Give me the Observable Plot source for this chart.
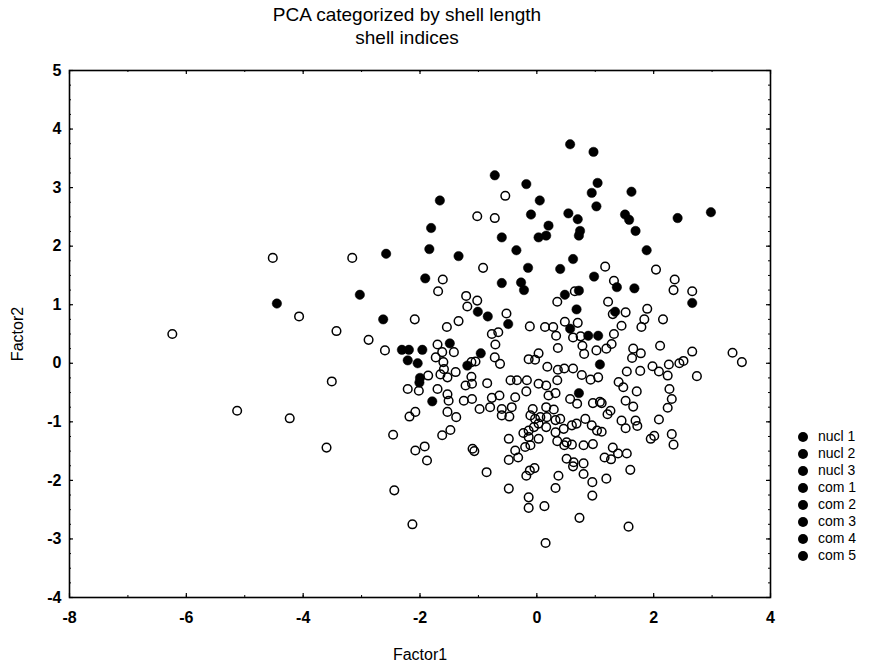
<!DOCTYPE html>
<html>
<head>
<meta charset="utf-8">
<script src="https://cdn.jsdelivr.net/npm/d3@7"></script>
<script src="https://cdn.jsdelivr.net/npm/@observablehq/plot@0.6"></script>
<style>
  body { margin: 0; background: #fff; font-family: "Liberation Sans", Arial, sans-serif; color: #000; }
  #wrap { position: relative; width: 879px; height: 670px; }
  #title { position: absolute; left: 157px; top: 3px; width: 500px; text-align: center; font-size: 19px; line-height: 23px; }
  #chart { position: absolute; left: 0; top: 55px; }
  #legend { position: absolute; left: 798px; top: 428px; font-size: 14px; line-height: 17px; }
  #legend .row { display: flex; align-items: center; height: 17px; }
  #legend .dot { width: 10px; height: 10px; border-radius: 50%; background: #000; margin-right: 10px; }
  #chart svg g[aria-label="x-axis tick label"] text, #chart svg g[aria-label="y-axis tick label"] text { font-weight: bold; }
</style>
</head>
<body>
<div id="wrap">
  <div id="title">PCA categorized by shell length<br>shell indices</div>
  <div id="chart"></div>
  <div id="legend"></div>
</div>
<script>
// Data
const nuclPoints = [
  [-2.58,1.87],[-3.03,1.17],[-4.45,1.02],[-2.63,0.75],
  [0.57,3.74],[0.97,3.61],[-0.72,3.21],[-0.18,3.06],[1.04,3.08],[-1.66,2.78],[0.94,2.91],[0.05,2.78],
  [1.62,2.93],[1.02,2.68],[-0.10,2.54],[0.54,2.56],[0.70,2.46],[1.51,2.54],[1.58,2.45],[2.41,2.48],
  [-1.81,2.31],[0.20,2.35],[0.74,2.26],[0.72,2.18],[-0.60,2.15],[0.03,2.15],[0.16,2.18],[1.69,2.26],
  [-1.84,1.95],[-0.35,1.93],[1.88,1.93],[-1.34,1.83],[0.62,1.78],[0.40,1.61],[-0.15,1.63],[-1.91,1.45],
  [0.98,1.48],[-0.60,1.37],[-0.27,1.38],[-0.22,1.25],[1.37,1.30],[1.67,1.28],[0.72,1.24],[0.48,1.17],
  [0.68,0.92],[-1.01,0.88],[-0.84,0.80],[-0.49,0.67],
  [2.98,2.58],[2.66,1.03],[1.34,0.88],
  [-2.31,0.23],[-2.19,0.23],[-1.96,0.23],[-2.21,0.05],[-2.04,0.00],[-1.49,0.34],[-0.96,0.17],
  [-1.19,-0.04],[-2.00,-0.25],[-2.01,-0.33],[-1.79,-0.65],[0.57,0.59],[0.88,0.47],[1.05,0.47],
  [1.08,-0.02],[0.72,-0.51]
];
const comPoints = [
  [-4.52,1.80],[-3.16,1.80],[-4.07,0.80],[-6.24,0.50],[-3.43,0.55],[-2.88,0.40],[-2.60,0.22],
  [-3.51,-0.31],[-5.13,-0.81],[-4.23,-0.94],[-2.46,-1.22],[-3.60,-1.44],[-2.44,-2.17],
  [-0.54,2.86],[-1.02,2.51],[-0.72,2.48],[-0.92,1.63],[1.17,1.65],[2.04,1.60],[-1.61,1.43],[-1.69,1.23],
  [1.32,1.41],[2.36,1.43],[2.34,1.25],[-1.21,1.15],[-1.02,1.07],[-1.19,0.97],[0.65,1.23],[0.35,1.05],
  [1.22,1.05],[-0.52,0.85],[-2.09,0.75],[-1.34,0.72],[-1.54,0.62],[1.30,0.84],[1.52,0.87],[1.89,0.93],
  [1.84,0.75],[2.16,0.75],[1.45,0.64],[1.79,0.62],[0.48,0.71],[0.70,0.69],[-0.12,0.63],[0.14,0.62],[0.28,0.62],
  [2.66,1.23],[1.32,0.50],[1.19,0.25],[1.28,0.33],[1.65,0.25],[1.78,0.17],[1.63,0.09],[2.11,0.30],
  [2.66,0.20],[3.35,0.18],[3.51,0.02],[1.98,-0.05],[2.26,-0.02],[2.44,0.00],[2.51,0.04],[1.54,-0.14],
  [1.77,-0.13],[2.09,-0.14],[2.74,-0.22],[2.24,-0.21],
  [1.40,-0.32],[1.48,-0.41],[1.71,-0.48],[2.27,-0.44],[2.31,-0.61],[2.24,-0.76],[1.11,-0.68],[1.26,-0.81],
  [1.21,-0.87],[1.52,-0.64],[1.65,-0.74],[1.45,-0.98],[1.52,-1.11],[1.69,-0.98],[1.72,-1.07],[2.09,-0.96],
  [1.11,-1.17],[1.95,-1.29],[2.01,-1.24],[2.31,-1.21],[2.34,-1.39],[1.30,-1.44],[1.16,-1.61],[1.27,-1.64],
  [1.39,-1.54],[1.54,-1.54],[1.60,-1.82],[1.19,-1.97],
  [-0.77,0.50],[-0.66,0.53],[-0.71,0.32],[0.33,0.47],[0.62,0.44],[0.75,0.46],[0.78,0.30],[0.81,0.16],
  [1.02,0.22],[-1.70,0.32],[-1.62,0.19],[-1.42,0.19],[-1.73,0.10],[-1.60,0.02],[-1.59,-0.10],[-1.65,-0.19],
  [-1.53,-0.24],[-1.39,-0.15],[-1.12,0.02],[-1.05,0.03],[-1.12,-0.23],[-0.72,0.10],[-0.63,-0.01],[-1.86,-0.21],
  [-0.14,0.07],[-0.03,0.06],[0.03,0.17],[0.18,-0.06],[0.36,0.26],[0.36,-0.11],[0.47,-0.09],[0.62,-0.09],
  [0.77,-0.20],[0.92,-0.28],[1.05,-0.24],[-1.70,-0.44],[-2.21,-0.44],[-2.02,-0.47],[-2.18,-0.91],[-2.08,-0.83],
  [-1.92,-1.42],[-2.08,-1.49],[-1.88,-1.66],[0.95,-2.26],[-0.14,-2.29],[-0.14,-2.47],[0.13,-2.44],[0.73,-2.64],
  [-2.13,-2.75],[1.57,-2.79],[0.15,-3.07],
  [-1.22,-0.38],[-1.11,-0.35],[-0.85,-0.34],[-0.45,-0.29],[-0.34,-0.29],[-0.17,-0.29],[0.03,-0.35],[0.16,-0.38],
  [0.35,-0.29],[-1.53,-0.53],[-1.51,-0.64],[-1.25,-0.64],[-1.11,-0.61],[-0.77,-0.59],[-0.64,-0.55],[-0.37,-0.58],
  [-0.18,-0.48],[0.20,-0.55],[0.32,-0.51],[0.57,-0.61],[0.69,-0.69],[0.96,-0.68],[1.08,-0.66],[-1.53,-0.83],
  [-1.38,-0.92],[-0.98,-0.78],[-0.80,-0.75],[-0.60,-0.78],[-0.43,-0.75],[-0.60,-0.89],[-0.47,-0.91],[-0.07,-0.78],
  [0.16,-0.75],[0.29,-0.79],[-0.11,-0.89],[-0.03,-0.95],[0.06,-0.92],[0.17,-0.92],[0.32,-0.97],[0.40,-0.95],
  [0.03,-1.03],[-0.05,-1.09],[-0.14,-1.15],[-0.23,-1.19],[0.16,-1.09],[0.32,-1.18],[0.46,-1.12],[0.60,-1.06],
  [0.68,-1.03],[0.83,-0.95],[0.94,-1.06],[1.03,-1.15],[-1.48,-1.14],[-1.62,-1.23],[-0.48,-1.29],[-0.14,-1.26],
  [-0.11,-1.40],[-0.20,-1.43],[0.03,-1.29],[0.35,-1.33],[0.51,-1.35],[0.60,-1.39],[0.47,-1.40],[0.80,-1.40],
  [0.96,-1.38],[-1.10,-1.46],[-1.07,-1.50],[-0.37,-1.49],[-0.32,-1.61],[-0.48,-1.65],[0.51,-1.63],[0.63,-1.69],
  [0.80,-1.71],[0.62,-1.76],[0.80,-1.89],[0.95,-2.03],[-0.86,-1.86],[-0.12,-1.83],[-0.04,-1.79],[-0.18,-1.92],
  [0.37,-1.92],[-0.48,-2.14],[0.32,-2.13]
];
const legendLabels = ["nucl 1","nucl 2","nucl 3","com 1","com 2","com 3","com 4","com 5"];
const xDomain = [-8, 4];
const yDomain = [-4, 5];
const xMajorTicks = [-8, -6, -4, -2, 0, 2, 4];
const xMinorTicks = [-8, -7, -6, -5, -4, -3, -2, -1, 0, 1, 2, 3, 4];
const yMajorTicks = [-4, -3, -2, -1, 0, 1, 2, 3, 4, 5];
const yMinorTicks = d3.range(-4, 5.001, 0.25);

const W = 879, H = 615, mL = 69, mR = 109, mT = 15, mB = 73;
const fw = W - mL - mR, fh = H - mT - mB;

const chart = Plot.plot({
  width: W, height: H,
  marginLeft: mL, marginRight: mR, marginTop: mT, marginBottom: mB,
  style: { fontFamily: "'Liberation Sans', Arial, sans-serif", fontSize: "18px", color: "#000", background: "#fff" },
  x: { domain: xDomain },
  y: { domain: yDomain },
  marks: [
    // minor and major inward ticks on all four sides
    Plot.tickX(xMinorTicks, { x: d => d, insetTop: fh - 2, stroke: "#000", strokeWidth: 1 }),
    Plot.tickX(xMinorTicks, { x: d => d, insetBottom: fh - 2, stroke: "#000", strokeWidth: 1 }),
    Plot.tickX(xMajorTicks, { x: d => d, insetTop: fh - 4, stroke: "#000", strokeWidth: 1.2 }),
    Plot.tickX(xMajorTicks, { x: d => d, insetBottom: fh - 4, stroke: "#000", strokeWidth: 1.2 }),
    Plot.tickY(yMinorTicks, { y: d => d, insetRight: fw - 2, stroke: "#000", strokeWidth: 1 }),
    Plot.tickY(yMinorTicks, { y: d => d, insetLeft: fw - 2, stroke: "#000", strokeWidth: 1 }),
    Plot.tickY(yMajorTicks, { y: d => d, insetRight: fw - 4, stroke: "#000", strokeWidth: 1.2 }),
    Plot.tickY(yMajorTicks, { y: d => d, insetLeft: fw - 4, stroke: "#000", strokeWidth: 1.2 }),
    Plot.frame({ stroke: "#000", strokeWidth: 1.6 }),
    Plot.axisX({ ticks: xMajorTicks, tickSize: 0, tickPadding: 14, fontSize: 16, tickFormat: d => String(d),
      label: "Factor1", labelAnchor: "center", labelArrow: "none", labelOffset: 62 }),
    Plot.axisY({ ticks: yMajorTicks, tickSize: 0, tickPadding: 8, fontSize: 16, tickFormat: d => String(d),
      label: "Factor2", labelAnchor: "center", labelArrow: "none", labelOffset: 58 }),
    Plot.dot(nuclPoints, { x: d => d[0], y: d => d[1], r: 4.7, fill: "#000", stroke: "#000", strokeWidth: 0.5 }),
    Plot.dot(comPoints, { x: d => d[0], y: d => d[1], r: 4.3, fill: "none", stroke: "#000", strokeWidth: 1.5 })
  ]
});
document.getElementById("chart").appendChild(chart);

const legend = document.getElementById("legend");
legendLabels.forEach(l => {
  const row = document.createElement("div");
  row.className = "row";
  row.innerHTML = `<span class="dot"></span><span>${l}</span>`;
  legend.appendChild(row);
});
</script>
</body>
</html>
